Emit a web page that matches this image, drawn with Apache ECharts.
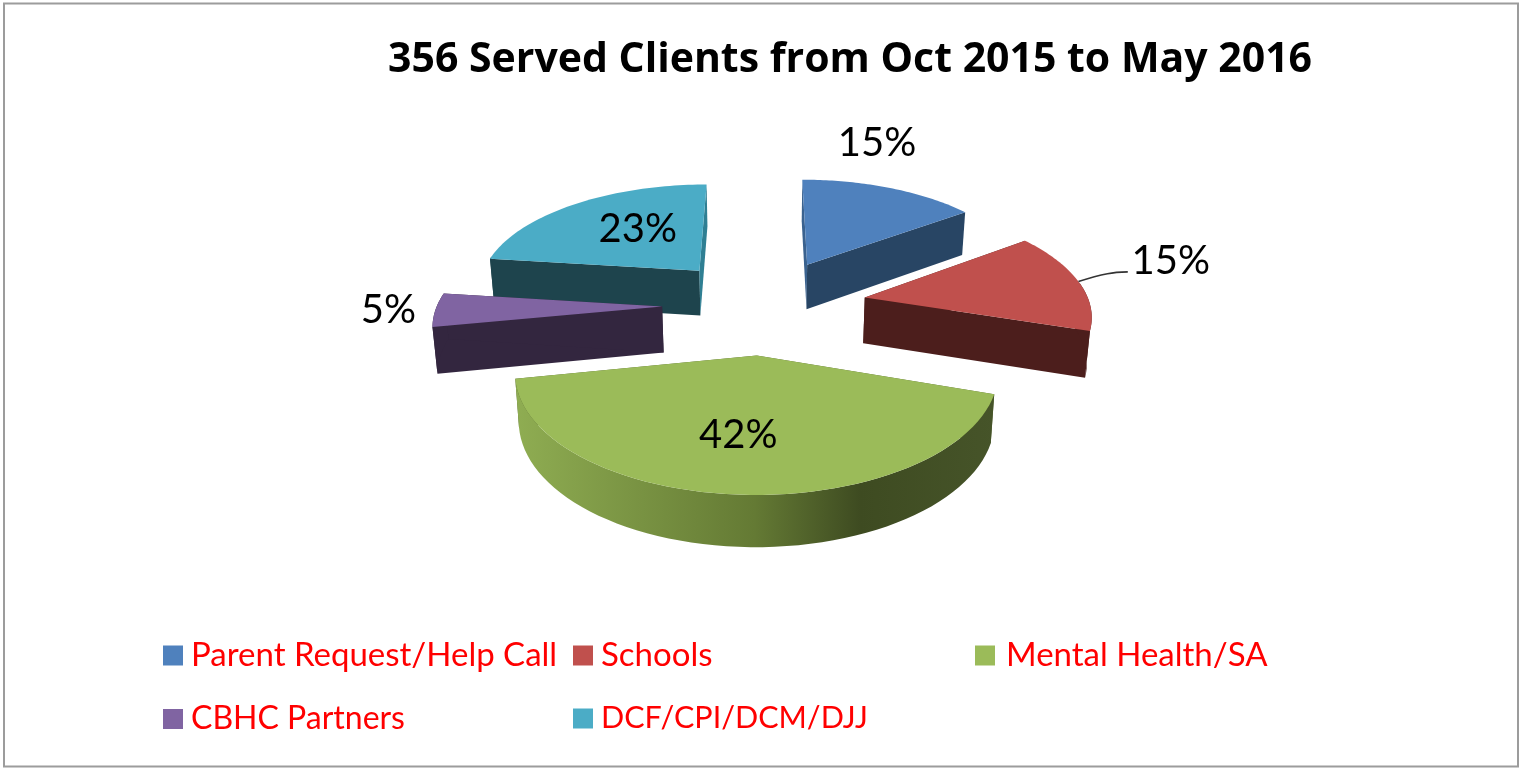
<!DOCTYPE html>
<html>
<head>
<meta charset="utf-8">
<style>html,body{margin:0;padding:0;background:#fff}#c{width:1521px;height:769px}</style>
<script src="https://cdn.jsdelivr.net/npm/echarts@6/dist/echarts.min.js"></script>
</head>
<body>
<div id="c"></div>
<script>
const titleText = '356 Served Clients from Oct 2015 to May 2016';
const categories = ['Parent Request/Help Call', 'Schools', 'Mental Health/SA', 'CBHC Partners', 'DCF/CPI/DCM/DJJ'];
const shares = [15, 15, 42, 5, 23];
const topColors = ['#4F81BD', '#C0504D', '#9BBB59', '#8064A2', '#4BACC6'];
const sideColors = ['#284564', '#4C1E1C', '#52632E', '#33263F', '#1E444D'];
const edgeColors = ['#3A628F', '#6A2B29', '#6F8A3E', '#4F3D66', '#2F7F93'];
const paintOrder = [4, 0, 3, 1, 2];
const explodes = [0.45, 0.46, 0.45, 0.45, 0.45];
// label spot of each slice: polar angle (deg) and radius in pie units
const labelAngles = [18.1, 76.5, 185.3, 268.9, 322.8];
const labelRadii = [2.04, 1.975, 1.045, 1.66, 1.023];
const legendLeft = [163, 573, 975, 163, 573];
const legendTop = [639, 639, 639, 703, 703];
const legendFontSizes = [33, 33, 33, 32, 30.5];
const legendGaps = [3, 3, 6, 3, 3];

const cx = 763.5, cy = 305, fx = 225, gy = 106, persp = 0.132, depth = 46, FONT = 'Lato, "Open Sans", sans-serif';
const total = shares.reduce((a, b) => a + b, 0);
const starts = shares.map((_, i) => shares.slice(0, i).reduce((a, b) => a + b, 0) / total * 2 * Math.PI);

function proj(u, v, low) {
  const s = 1 / (1 + persp * v);
  let x = cx + fx * u * s, y = cy - gy * v * s;
  if (low) { y += depth * Math.pow(s, 0.6); x = cx + (x - cx) * 0.985; }
  return [x, y];
}
function renderSlice(i) {
  return function (params, api) {
    const val = api.value(0);
    const a0 = starts[i], a1 = a0 + val / total * 2 * Math.PI, mid = (a0 + a1) / 2;
    const ou = explodes[i] * Math.sin(mid), ov = explodes[i] * Math.cos(mid);
    const N = 60, rim = [];
    for (let n = 0; n <= N; n++) {
      const a = a0 + (a1 - a0) * n / N;
      rim.push([ou + Math.sin(a), ov + Math.cos(a)]);
    }
    const top = pts => pts.map(p => proj(p[0], p[1], false));
    const low = pts => pts.map(p => proj(p[0], p[1], true));
    const wall = (pts, fill) => ({ type: 'polygon', shape: { points: top(pts).concat(low(pts).reverse()) }, style: { fill: fill } });
    const apex = [ou, ov];
    const children = [];
    const tint = a => Math.abs(Math.cos(a)) > 0.98 ? edgeColors[i] : sideColors[i];
    children.push(wall([apex, rim[0]], tint(a0)));
    children.push(wall([apex, rim[N]], tint(a1)));
    const front = rim.filter((p, n) => { const a = a0 + (a1 - a0) * n / N; return Math.cos(a) < 0.15; });
    if (front.length > 1) {
      let fill = sideColors[i];
      if (i === 2) {
        fill = new echarts.graphic.LinearGradient(0, 0, 1, 0, [
          { offset: 0, color: '#8FAD52' }, { offset: 0.5, color: '#647A34' },
          { offset: 0.72, color: '#3E4B21' }, { offset: 1, color: '#465429' }
        ]);
      }
      children.push(wall(front, fill));
    }
    children.push({ type: 'polygon', shape: { points: top([apex].concat(rim)) }, style: { fill: topColors[i] } });
    const la = labelAngles[i] * Math.PI / 180, lr = labelRadii[i];
    const lp = proj(lr * Math.sin(la), lr * Math.cos(la), false);
    if (i === 1) {
      const from = proj(ou + Math.sin(mid), ov + Math.cos(mid), false);
      const bend = proj(1.62 * Math.sin(1.38), 1.62 * Math.cos(1.38), false);
      const to = proj(1.72 * Math.sin(1.38), 1.72 * Math.cos(1.38), false);
      children.push({ type: 'polyline', shape: { points: [from, bend, to], smooth: 0.4 }, style: { stroke: '#333', lineWidth: 1.6, fill: 'none' } });
    }
    children.push({ type: 'text', style: { text: val + '%', x: lp[0], y: lp[1] + 2, align: 'center', verticalAlign: 'middle', fill: '#000', font: '40px ' + FONT } });
    return { type: 'group', children: children };
  };
}
const series = paintOrder.map((i, order) => ({
  type: 'custom', name: categories[i], coordinateSystem: 'none', silent: true, z: 2 + order,
  animation: false, itemStyle: { color: topColors[i] }, data: [[shares[i]]], renderItem: renderSlice(i)
}));
const legends = categories.map((name, i) => ({
  data: [name], left: legendLeft[i], top: legendTop[i], padding: 0, selectedMode: false,
  icon: 'rect', itemWidth: 20, itemHeight: 20,
  textStyle: { color: '#FF0000', fontSize: legendFontSizes[i], fontFamily: FONT, padding: [0, 0, 0, legendGaps[i]] }
}));
const chart = echarts.init(document.getElementById('c'), null, { renderer: 'canvas' });
chart.setOption({
  backgroundColor: '#fff', animation: false,
  title: { text: titleText, left: 388, top: 40, padding: 0, textStyle: { fontFamily: '"Open Sans", sans-serif', fontWeight: 'bold', fontSize: 41, color: '#000' } },
  legend: legends,
  graphic: [{ type: 'rect', shape: { x: 4, y: 3.5, width: 1514, height: 763 }, style: { fill: 'none', stroke: '#9C9C9C', lineWidth: 2 }, silent: true }],
  series: series
});
</script>
</body>
</html>
